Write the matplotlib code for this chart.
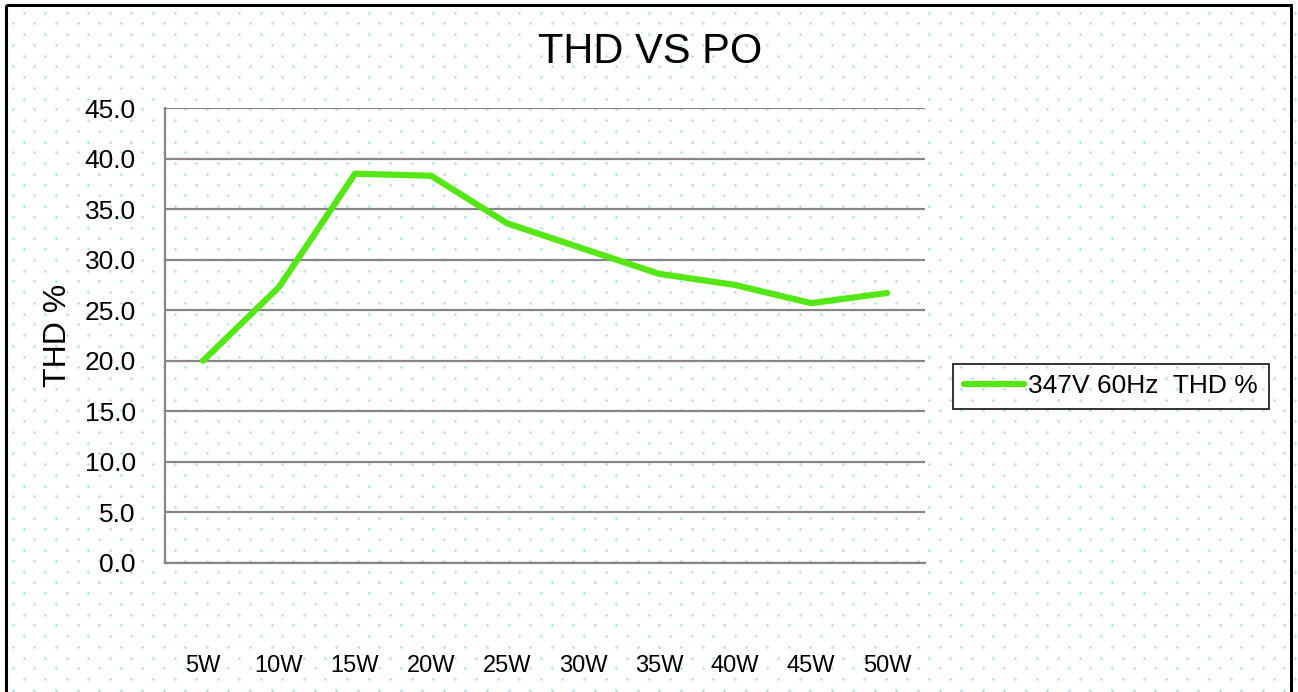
import matplotlib
matplotlib.use("Agg")
import matplotlib.pyplot as plt
import numpy as np
from matplotlib.patches import Rectangle

plt.rcParams['font.family'] = ['Liberation Sans', 'DejaVu Sans']

categories = ["5W", "10W", "15W", "20W", "25W", "30W", "35W", "40W", "45W", "50W"]
thd_values = [20.0, 27.3, 38.5, 38.3, 33.6, 31.1, 28.6, 27.5, 25.7, 26.7]
series_label = "347V 60Hz  THD %"
yticks = [0, 5, 10, 15, 20, 25, 30, 35, 40, 45]

W, H = 1298, 692
fig = plt.figure(figsize=(W / 100, H / 100), dpi=100)

# background dotted pattern
bg = fig.add_axes([0, 0, 1, 1], zorder=-10)
bg.set_xlim(0, W)
bg.set_ylim(H, 0)
bg.axis('off')
xs, ys = [], []
row = 0
y = 12.7
while y < H + 10:
    x0 = 23.7 if row % 2 == 0 else 12.9
    xx = np.arange(x0, W, 21.55)
    xs.extend(xx)
    ys.extend([y] * len(xx))
    y += 10.75
    row += 1
bg.scatter(xs, ys, s=3.5, color='#ade0e6', linewidths=0)
bg.add_patch(Rectangle((6, 5), 1285, 700, fill=False, edgecolor='black', linewidth=2.2))

ax = fig.add_axes([165 / W, 1 - 563 / H, 760 / W, 455 / H])
ax.set_facecolor('none')
x = np.arange(len(categories))
ax.plot(x, thd_values, color='#55e615', linewidth=4.5, solid_capstyle='round',
        solid_joinstyle='round', label=series_label, zorder=3)
ax.set_xlim(-0.5, len(categories) - 0.5)
ax.set_ylim(0, 45)
ax.set_yticks(yticks)
ax.set_yticklabels([f"{v:.1f}" for v in yticks], fontsize=19)
ax.set_xticks(x)
ax.set_xticklabels(categories, fontsize=17)
ax.tick_params(axis='x', length=0, pad=66)
ax.tick_params(axis='y', length=0, pad=21)
ax.grid(axis='y', color='#868686', linewidth=1.6)
ax.set_axisbelow(True)
for s in ['top', 'right']:
    ax.spines[s].set_visible(False)
for s in ['left', 'bottom']:
    ax.spines[s].set_color('#868686')
    ax.spines[s].set_linewidth(1.6)
ax.set_ylabel("THD %", fontsize=23)
ax.yaxis.set_label_coords((58 - 165) / 760, 0.5)
ax.yaxis.label.set_va('center')

fig.text(650 / W, 1 - 52 / H, "THD VS PO", fontsize=30, ha='center', va='center')

leg = fig.legend(loc='center left', bbox_to_anchor=(953 / W, 1 - 386.5 / H), fontsize=19,
                 frameon=True, fancybox=False, handlelength=2.3, handletextpad=0.15,
                 borderpad=0.4, borderaxespad=0)
leg.get_frame().set_edgecolor('black')
leg.get_frame().set_linewidth(1.4)
leg.get_frame().set_facecolor('none')

fig.savefig("out.png", dpi=100)
